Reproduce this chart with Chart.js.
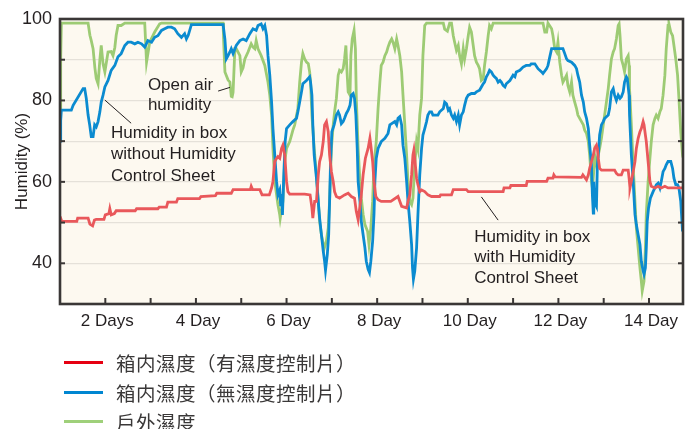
<!DOCTYPE html>
<html>
<head>
<meta charset="utf-8">
<script src="https://cdn.jsdelivr.net/npm/chart.js@4.4.1/dist/chart.umd.min.js"></script>
<style>
  body { margin: 0; background: #fff; }
  #wrap { position: relative; width: 698px; height: 429px; }
  #legend {
    position: absolute; left: 64px; top: 348px;
    font-family: "Noto Sans CJK TC", "Noto Sans CJK JP", sans-serif;
    font-size: 19.5px; letter-spacing: 0.5px; color: #3a3838;
  }
  .row { display: flex; align-items: center; height: 29.5px; }
  .swatch { width: 39px; height: 3px; margin-right: 13px; }
</style>
</head>
<body>
<div id="wrap">
  <canvas id="chart" width="698" height="429"></canvas>
  <div id="legend"></div>
</div>
<script>
// [day, humidity %]
const withSheet = [
  [1.0, 51.5], [1.04, 50.3], [1.37, 50.3], [1.39, 51.1], [1.62, 51.1], [1.66, 49.6], [1.72, 49.2], [1.76, 50.6],
  [1.8, 50.8], [1.97, 50.8], [2.0, 51.9], [2.08, 52.2], [2.1, 53.4], [2.13, 51.9], [2.2, 52.2], [2.24, 52.9],
  [2.66, 52.9], [2.69, 53.4], [3.16, 53.4], [3.19, 53.8], [3.35, 53.8], [3.38, 55], [3.57, 55], [3.6, 55.9],
  [4.08, 55.9], [4.11, 56.4], [4.43, 56.6], [4.46, 57.2], [4.78, 57.2], [4.82, 58.1], [5.2, 58.1], [5.22, 58.9],
  [5.25, 58.1], [5.41, 58.1], [5.46, 56.8], [5.62, 56.8], [5.67, 58.5], [5.7, 60.1], [5.74, 65], [5.78, 65.8],
  [5.81, 66.2], [5.85, 65.8], [5.89, 68.2], [5.92, 69], [5.96, 66.6], [6.0, 60.1], [6.03, 57.6], [6.07, 57],
  [6.4, 57], [6.52, 56.8], [6.56, 53.6], [6.58, 51.1], [6.62, 55.2], [6.66, 55.2], [6.7, 61.7], [6.73, 65],
  [6.77, 66.6], [6.81, 69.9], [6.84, 74], [6.88, 74.8], [6.92, 72.3], [6.95, 66.6], [6.99, 62.5], [7.03, 60.1],
  [7.06, 57.6], [7.1, 56.4], [7.17, 56], [7.28, 56.8], [7.36, 57.2], [7.43, 56.4], [7.5, 56], [7.54, 52.7],
  [7.58, 50.7], [7.62, 54], [7.65, 56.8], [7.69, 61.7], [7.74, 65.8], [7.8, 68.2], [7.84, 70.7], [7.86, 69],
  [7.9, 65], [7.93, 60.1], [7.97, 56.4], [8.02, 55.6], [8.09, 55.2], [8.3, 55.2], [8.46, 56.4], [8.54, 54],
  [8.65, 53.6], [8.68, 55.2], [8.72, 56.8], [8.76, 61.7], [8.79, 66.6], [8.81, 67.8], [8.84, 64.5], [8.87, 60.9],
  [8.9, 59.3], [8.94, 57.6], [8.98, 58], [9.05, 57.6], [9.12, 56.8], [9.2, 56.4], [9.38, 56.4], [9.4, 56.8],
  [9.64, 56.8], [9.68, 58.1], [9.97, 58.1], [10.01, 57.6], [10.78, 57.6], [10.8, 58.5], [10.93, 58.5], [10.95, 59.1],
  [11.29, 59.1], [11.31, 60.1], [11.74, 60.1], [11.77, 60.9], [11.88, 60.9], [11.9, 61.7], [11.93, 61.2], [12.51, 61.1],
  [12.54, 61.7], [12.62, 60.5], [12.66, 61.7], [12.69, 63.3], [12.73, 65], [12.77, 66.6], [12.8, 68.2], [12.84, 69],
  [12.86, 68.2], [12.88, 65.8], [12.91, 63.3], [12.95, 62.9], [13.24, 62.9], [13.28, 62.1], [13.32, 61.7], [13.39, 61.7],
  [13.43, 62.9], [13.54, 62.9], [13.56, 60.9], [13.58, 58.5], [13.61, 60.1], [13.65, 62.5], [13.69, 65], [13.72, 68.2],
  [13.76, 70.7], [13.8, 72.3], [13.83, 73.1], [13.87, 74.8], [13.89, 74], [13.92, 71.5], [13.94, 69.9], [13.98, 65],
  [14.02, 60.1], [14.05, 58.9], [14.13, 58.5], [14.2, 58.9], [14.27, 58.5], [14.35, 58.9], [14.42, 58.5], [14.75, 58.5]
];
const withoutSheet = [
  [1.0, 70], [1.015, 75], [1.03, 77.6], [1.25, 77.6], [1.29, 78.8], [1.51, 82.9], [1.545, 82.9], [1.58, 80.5],
  [1.62, 76.4], [1.655, 74], [1.69, 71.1], [1.73, 71.1], [1.765, 74], [1.8, 73.5], [1.84, 74.8], [1.88, 77.2],
  [1.91, 79.6], [1.95, 81.3], [1.99, 83.3], [2.06, 84.9], [2.13, 87.4], [2.21, 88.6], [2.28, 90.7], [2.35, 91.5],
  [2.43, 93.5], [2.5, 94.3], [2.57, 94.3], [2.65, 93.9], [2.72, 94.3], [2.8, 93.9], [2.87, 93.1], [2.94, 94.7],
  [3.02, 94.3], [3.09, 95.5], [3.16, 95.9], [3.24, 97.2], [3.31, 97.6], [3.38, 98], [3.46, 98], [3.53, 97.6],
  [3.6, 96.4], [3.68, 95.5], [3.75, 96.4], [3.79, 95.1], [3.83, 96], [3.9, 98.6], [4.6, 98.6], [4.64, 95],
  [4.67, 90.2], [4.71, 91], [4.75, 91.9], [4.78, 92.7], [4.82, 91.5], [4.89, 93.5], [4.97, 94.7], [5.04, 95.1],
  [5.11, 94.7], [5.19, 96.4], [5.26, 97.6], [5.33, 97.2], [5.37, 98.4], [5.44, 98.8], [5.48, 97.6], [5.52, 98.4],
  [5.56, 95.9], [5.59, 91], [5.63, 86.2], [5.67, 79.6], [5.7, 73.1], [5.74, 66.6], [5.78, 60.1], [5.81, 56.8],
  [5.85, 58], [5.87, 54], [5.89, 57], [5.91, 51.9], [5.94, 62], [5.97, 70], [6.0, 73.1], [6.07, 74],
  [6.14, 74.8], [6.22, 75.6], [6.25, 77.2], [6.29, 79.6], [6.33, 82.1], [6.36, 84.1], [6.44, 84.9], [6.51, 85.8],
  [6.53, 84.5], [6.56, 81.3], [6.58, 74], [6.61, 66.6], [6.66, 60.9], [6.7, 55.2], [6.73, 51.1], [6.77, 47],
  [6.81, 43], [6.84, 40.5], [6.86, 38.3], [6.9, 42.2], [6.93, 47], [6.95, 55.2], [6.97, 64.2], [7.0, 72.3],
  [7.05, 74], [7.1, 76.4], [7.14, 77.2], [7.17, 76.4], [7.21, 74.3], [7.25, 74.8], [7.28, 75.6], [7.32, 76.8],
  [7.36, 77.6], [7.4, 78.8], [7.43, 81.3], [7.47, 81.7], [7.5, 80.5], [7.53, 76.4], [7.56, 68.2], [7.58, 60.1],
  [7.62, 55.2], [7.65, 50.3], [7.69, 47], [7.73, 43.8], [7.76, 40.5], [7.8, 38.5], [7.83, 37.7], [7.86, 40.5],
  [7.9, 45.4], [7.93, 52], [7.95, 60.1], [7.98, 65.8], [8.02, 68.2], [8.09, 69.9], [8.17, 70.7], [8.24, 71.9],
  [8.28, 74], [8.32, 74.3], [8.39, 74.8], [8.43, 74], [8.46, 75.6], [8.5, 76], [8.54, 74], [8.57, 69],
  [8.61, 65.8], [8.65, 60.1], [8.68, 55.2], [8.72, 50.3], [8.76, 44.6], [8.78, 38.9], [8.8, 36.1], [8.83, 38.1],
  [8.87, 43.8], [8.9, 52], [8.94, 61.7], [8.98, 68.2], [9.01, 71.5], [9.05, 73.1], [9.09, 74.8], [9.12, 76.4],
  [9.16, 77.2], [9.2, 77.2], [9.23, 76.4], [9.34, 76.4], [9.38, 77.2], [9.46, 78], [9.49, 79.6], [9.53, 79.2],
  [9.57, 77.6], [9.6, 78], [9.64, 76.4], [9.68, 75.6], [9.71, 76.4], [9.75, 74.8], [9.79, 76.4], [9.82, 74],
  [9.86, 76.4], [9.9, 77.2], [9.93, 78.8], [9.97, 80.5], [10.01, 81.3], [10.08, 81.7], [10.15, 81.7], [10.19, 82.1],
  [10.26, 82.5], [10.3, 83.3], [10.34, 84.1], [10.37, 84.5], [10.41, 85.8], [10.45, 86.6], [10.48, 87.4], [10.52, 87],
  [10.56, 86.2], [10.59, 85.8], [10.63, 85.4], [10.67, 84.5], [10.71, 84.9], [10.74, 84.5], [10.78, 83.7], [10.82, 83.3],
  [10.85, 84.1], [10.93, 84.9], [11.0, 86.2], [11.04, 85.8], [11.07, 87], [11.15, 87.4], [11.22, 88.2], [11.29, 88.6],
  [11.37, 88.6], [11.4, 89], [11.48, 89], [11.55, 87.8], [11.63, 87], [11.66, 86.6], [11.74, 87.8], [11.77, 88.6],
  [11.81, 90.7], [11.85, 92.7], [11.96, 92.7], [12.1, 92.7], [12.14, 91.5], [12.18, 90.2], [12.21, 89.8], [12.29, 89.4],
  [12.36, 88.6], [12.4, 87.8], [12.43, 86.2], [12.47, 84.5], [12.51, 81.3], [12.55, 79.6], [12.58, 77.2], [12.62, 75.6],
  [12.66, 73.1], [12.69, 69], [12.73, 64.2], [12.75, 56.8], [12.77, 52.3], [12.78, 60], [12.8, 55], [12.84, 54],
  [12.86, 64.2], [12.88, 66.6], [12.91, 71.5], [12.95, 74], [12.99, 74.8], [13.02, 75.6], [13.06, 76], [13.1, 76.4],
  [13.13, 78], [13.17, 82.1], [13.21, 82.9], [13.24, 81.3], [13.28, 80], [13.32, 81.3], [13.36, 80.5], [13.39, 80.9],
  [13.43, 82.1], [13.46, 84.5], [13.5, 85.8], [13.52, 85.4], [13.56, 81.3], [13.57, 76.4], [13.61, 66.6], [13.65, 60.1],
  [13.69, 52], [13.72, 49.5], [13.76, 47], [13.8, 44.6], [13.83, 40.5], [13.87, 38.1], [13.89, 37.3], [13.92, 38.9],
  [13.94, 43.8], [13.96, 50.3], [13.99, 53.6], [14.03, 56], [14.09, 57.6], [14.13, 58.5], [14.16, 59.3], [14.2, 59.7],
  [14.24, 58.5], [14.27, 60.1], [14.31, 62.5], [14.35, 63.3], [14.38, 64.2], [14.42, 65], [14.48, 65], [14.52, 63.3],
  [14.55, 60.9], [14.59, 59.3], [14.63, 59.3], [14.66, 58.5], [14.7, 55.2], [14.74, 47.8]
];
const openAir = [
  [1.0, 78], [1.015, 90], [1.03, 99], [1.62, 99], [1.66, 96], [1.69, 94.7], [1.73, 92.7], [1.77, 88],
  [1.8, 85.4], [1.84, 84.1], [1.88, 90], [1.91, 93.5], [1.95, 89], [1.99, 87], [2.06, 91.9], [2.13, 92],
  [2.17, 91], [2.21, 93], [2.24, 96], [2.28, 98.4], [2.35, 98.4], [2.43, 99], [2.87, 99], [2.91, 89.4],
  [2.98, 94.3], [3.09, 96.8], [3.2, 98.8], [3.24, 99], [4.6, 99], [4.61, 95], [4.64, 87], [4.71, 85],
  [4.75, 84.5], [4.78, 81], [4.8, 80.9], [4.82, 82], [4.86, 92.7], [4.89, 92.7], [4.97, 91], [5.0, 87],
  [5.04, 88], [5.08, 90.2], [5.15, 91.9], [5.22, 93.9], [5.26, 93.1], [5.3, 92.7], [5.33, 94.7], [5.37, 92.7],
  [5.44, 91], [5.52, 88.6], [5.59, 84.5], [5.63, 81.3], [5.67, 76.4], [5.7, 68.2], [5.74, 60.1], [5.78, 56.8],
  [5.81, 54.4], [5.85, 51.9], [5.86, 51], [5.92, 55.2], [5.96, 65], [6.0, 68.2], [6.07, 69.9], [6.11, 71.5],
  [6.14, 72.7], [6.18, 74], [6.25, 78], [6.29, 84.5], [6.33, 89.4], [6.36, 91.5], [6.4, 90.2], [6.44, 89.4],
  [6.48, 89], [6.51, 87], [6.53, 84.5], [6.56, 76.4], [6.61, 68.2], [6.66, 61.7], [6.7, 55.2], [6.73, 50.3],
  [6.77, 47], [6.81, 44.6], [6.83, 43.6], [6.88, 45.5], [6.92, 48.7], [6.95, 55.2], [6.99, 68.2], [7.03, 74],
  [7.06, 77.2], [7.1, 80.5], [7.14, 86.2], [7.17, 87.4], [7.21, 87], [7.25, 87.8], [7.28, 90.2], [7.31, 93.5],
  [7.33, 88], [7.36, 82.1], [7.4, 81.3], [7.42, 91], [7.45, 95.1], [7.49, 97.2], [7.52, 92.7], [7.54, 80.5],
  [7.58, 68.2], [7.62, 60.1], [7.65, 56], [7.69, 52], [7.73, 49.5], [7.79, 47.8], [7.82, 44.6], [7.86, 48.7],
  [7.9, 55.2], [7.93, 64.2], [7.98, 69.9], [8.02, 78], [8.06, 84.5], [8.09, 88.6], [8.13, 89.4], [8.17, 91],
  [8.21, 91.9], [8.24, 93.1], [8.28, 94.3], [8.32, 95.1], [8.35, 94.3], [8.39, 92.7], [8.43, 95.1], [8.46, 93.5],
  [8.5, 91], [8.54, 87], [8.57, 81.3], [8.61, 74], [8.65, 66.6], [8.68, 60.1], [8.72, 55.2], [8.76, 54.4],
  [8.79, 56], [8.83, 64.2], [8.87, 69.9], [8.9, 68.2], [8.94, 76.4], [8.98, 80.5], [9.01, 91], [9.05, 98.4],
  [9.09, 99], [9.46, 99], [9.49, 97.5], [9.55, 97], [9.6, 99], [9.64, 99], [9.68, 95.9], [9.71, 94.3],
  [9.75, 92.3], [9.79, 93.5], [9.82, 91], [9.86, 89], [9.9, 92.7], [9.93, 90.2], [9.97, 92.7], [10.01, 95.9],
  [10.04, 98], [10.08, 96.8], [10.12, 93.5], [10.15, 91], [10.19, 89.4], [10.23, 88.6], [10.26, 87.8], [10.3, 84.9],
  [10.34, 85.3], [10.37, 88.6], [10.41, 91.9], [10.45, 95.9], [10.48, 98.4], [10.52, 97.6], [10.56, 99], [11.66, 99],
  [11.7, 96.8], [11.74, 96.8], [11.77, 99], [11.85, 97.6], [11.88, 95.9], [11.92, 92.7], [11.96, 91.9], [11.99, 94.3],
  [12.03, 89.4], [12.07, 86.2], [12.1, 84.5], [12.14, 85.3], [12.18, 86.2], [12.21, 83.7], [12.25, 82.1], [12.29, 84.5],
  [12.32, 81.3], [12.36, 79.6], [12.4, 78], [12.43, 76.4], [12.47, 75.6], [12.51, 74.8], [12.55, 74], [12.58, 72.7],
  [12.62, 71.9], [12.66, 69.9], [12.69, 66.6], [12.73, 60.1], [12.75, 58.5], [12.78, 62.5], [12.8, 66.6], [12.84, 64.2],
  [12.88, 66.6], [12.91, 68.2], [12.95, 70.7], [12.99, 74], [13.02, 76.4], [13.06, 79.6], [13.1, 82.9], [13.13, 86.2],
  [13.17, 90.2], [13.21, 91.9], [13.24, 92.7], [13.28, 95.1], [13.32, 98.4], [13.34, 98.8], [13.36, 95.9], [13.39, 90.2],
  [13.43, 88.6], [13.46, 87], [13.5, 90.2], [13.54, 91], [13.56, 88.6], [13.57, 82.9], [13.61, 74], [13.65, 64.2],
  [13.69, 55.2], [13.72, 48.7], [13.76, 43.8], [13.8, 38.9], [13.83, 35.6], [13.85, 33.2], [13.89, 35.6], [13.92, 43.8],
  [13.94, 52], [13.98, 60.1], [14.02, 65.8], [14.05, 69.9], [14.09, 74], [14.13, 75.6], [14.16, 76.4], [14.2, 75.6],
  [14.24, 77.2], [14.27, 78], [14.31, 81.3], [14.35, 86.2], [14.38, 92.7], [14.42, 98.4], [14.44, 98.8], [14.48, 96.8],
  [14.52, 95.9], [14.55, 93.5], [14.59, 90.2], [14.63, 86.2], [14.66, 80.5], [14.7, 72.3], [14.74, 66.6], [14.75, 66]
];

const seriesNames = ['箱内濕度（有濕度控制片）', '箱内濕度（無濕度控制片）', '戶外濕度'];
const dayTicks = [2, 4, 6, 8, 10, 12, 14];
const dayTickLabels = ['2 Days', '4 Day', '6 Day', '8 Day', '10 Day', '12 Day', '14 Day'];
const humidityTicks = [40, 60, 80, 100];

const lineColors = ['#e9585b', '#0b8bd0', '#9dcb74'];
const legendColors = ['#e60012', '#0086d1', '#9fd07a'];
const ink = '#231f20';
const sans = '"Liberation Sans", Arial, Helvetica, sans-serif';

// callout text, anchored in data units
const notes = [
  { lines: ['Open air', 'humidity'], x: 2.94, y: 83.6, lineStep: 4.8, from: [4.49, 82.3], to: [4.75, 83.2] },
  { lines: ['Humidity in box', 'without Humidity', 'Control Sheet'], x: 2.125, y: 72.0, lineStep: 5.3, from: [1.99, 80.1], to: [2.57, 74.4] },
  { lines: ['Humidity in box', 'with Humidity', 'Control Sheet'], x: 10.14, y: 46.5, lineStep: 5.05, from: [10.3, 56.3], to: [10.67, 50.6] }
];

const toPoints = arr => arr.map(p => ({ x: p[0], y: p[1] }));

const frame = {
  id: 'frame',
  beforeDraw(chart) {
    const { ctx, chartArea: a } = chart;
    ctx.save();
    ctx.fillStyle = '#fdf9f0';
    ctx.fillRect(a.left, a.top, a.right - a.left, a.bottom - a.top);
    ctx.restore();
  },
  afterDatasetsDraw(chart) {
    const { ctx, chartArea: a, scales } = chart;
    ctx.save();
    // notes
    ctx.fillStyle = ink;
    ctx.strokeStyle = ink;
    ctx.font = '17px ' + sans;
    ctx.textBaseline = 'middle';
    ctx.lineWidth = 1;
    for (const n of notes) {
      n.lines.forEach((t, i) => {
        ctx.fillText(t, scales.x.getPixelForValue(n.x), scales.y.getPixelForValue(n.y - i * n.lineStep));
      });
      ctx.beginPath();
      ctx.moveTo(scales.x.getPixelForValue(n.from[0]), scales.y.getPixelForValue(n.from[1]));
      ctx.lineTo(scales.x.getPixelForValue(n.to[0]), scales.y.getPixelForValue(n.to[1]));
      ctx.stroke();
    }
    // inward tick marks
    ctx.strokeStyle = '#3a3736';
    ctx.lineWidth = 2;
    for (let d = 2; d <= 14; d++) {
      const x = scales.x.getPixelForValue(d);
      ctx.beginPath(); ctx.moveTo(x, a.bottom); ctx.lineTo(x, a.bottom - 6); ctx.stroke();
    }
    for (let v = 40; v <= 90; v += 10) {
      const y = scales.y.getPixelForValue(v);
      ctx.beginPath(); ctx.moveTo(a.left, y); ctx.lineTo(a.left + 5, y); ctx.stroke();
      ctx.beginPath(); ctx.moveTo(a.right, y); ctx.lineTo(a.right - 5, y); ctx.stroke();
    }
    // box
    ctx.lineWidth = 2.6;
    ctx.strokeRect(a.left, a.top, a.right - a.left, a.bottom - a.top);
    ctx.restore();
  }
};

new Chart(document.getElementById('chart'), {
  type: 'line',
  data: {
    datasets: [withSheet, withoutSheet, openAir].map((s, i) => ({
      label: seriesNames[i],
      data: toPoints(s),
      borderColor: lineColors[i],
      borderWidth: 2.8,
      pointRadius: 0,
      tension: 0,
      fill: false
    }))
  },
  options: {
    responsive: false,
    animation: false,
    devicePixelRatio: 1,
    parsing: false,
    layout: { padding: { left: 0, right: 15, top: 19, bottom: 95 } },
    plugins: { legend: { display: false }, tooltip: { enabled: false } },
    scales: {
      x: {
        type: 'linear',
        min: 1,
        max: 14.75,
        afterFit(s) { s.height = 30; },
        grid: { display: false, drawTicks: false },
        border: { display: false },
        ticks: {
          stepSize: 1,
          includeBounds: false,
          autoSkip: false,
          maxRotation: 0,
          padding: 7,
          labelOffset: 2,
          color: ink,
          font: { family: sans, size: 17 },
          callback: v => {
            const i = dayTicks.indexOf(v);
            return i >= 0 ? dayTickLabels[i] : '';
          }
        }
      },
      y: {
        min: 30,
        max: 100,
        afterFit(s) { s.width = 60; },
        grid: { color: '#e5e1d9', lineWidth: 1.2, drawTicks: false },
        border: { display: false },
        ticks: {
          stepSize: 10,
          padding: 8,
          color: ink,
          font: { family: sans, size: 18 },
          callback: v => humidityTicks.includes(v) ? String(v) : ''
        },
        title: {
          display: true,
          text: 'Humidity (%)',
          color: ink,
          font: { family: sans, size: 17 },
          padding: { top: 12, bottom: 0 }
        }
      }
    }
  },
  plugins: [frame]
});

const legend = document.getElementById('legend');
seriesNames.forEach((name, i) => {
  const row = document.createElement('div');
  row.className = 'row';
  const sw = document.createElement('span');
  sw.className = 'swatch';
  sw.style.background = legendColors[i];
  const label = document.createElement('span');
  label.textContent = name;
  row.append(sw, label);
  legend.append(row);
});
</script>
</body>
</html>
